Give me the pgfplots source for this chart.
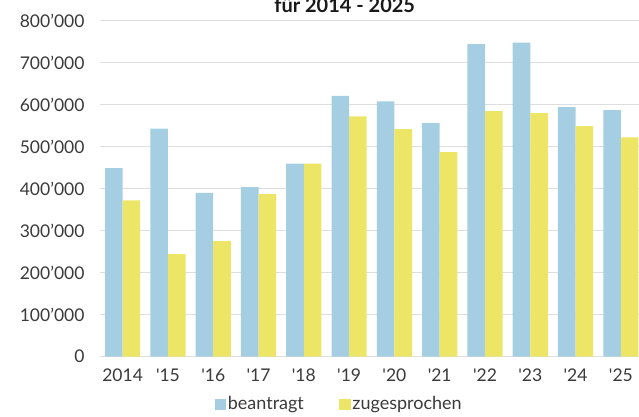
\documentclass[border=0pt]{standalone}
\usepackage{fontspec}
\setmainfont{Lato}
\usepackage{pgfplots}
\pgfplotsset{compat=1.18}
\definecolor{cblue}{HTML}{A6CEE3}
\definecolor{cyellow}{HTML}{EDE566}
\definecolor{txt}{HTML}{3A3A3A}
\definecolor{gridc}{HTML}{DEDEDE}

\pgfplotstableread{
x beantragt zugesprochen
0  449000 372000
1  543000 244000
2  390000 275000
3  404000 387000
4  460000 460000
5  621000 572000
6  608000 542000
7  556000 487000
8  744000 585000
9  748000 580000
10 594000 549000
11 587000 522000
}\datatable

\begin{document}
\begin{tikzpicture}[x=1pt,y=1pt]
\useasboundingbox (-100,-59.3) rectangle (539,356.7);
\begin{axis}[
  at={(0,0)}, anchor=south west,
  width=539pt, height=336pt, scale only axis,
  ymin=0, ymax=800000, xmin=-0.5, xmax=11.4,
  ybar=0pt, bar width=17.6pt,
  axis line style={draw=none},
  major tick length=0pt,
  ymajorgrids, grid style={gridc, line width=1.4pt},
  xtick={0,...,11},
  xticklabels={2014,\textquotesingle15,\textquotesingle16,\textquotesingle17,\textquotesingle18,\textquotesingle19,\textquotesingle20,\textquotesingle21,\textquotesingle22,\textquotesingle23,\textquotesingle24,\textquotesingle25},
  ytick={0,100000,200000,300000,400000,500000,600000,700000,800000},
  yticklabels={0,100’000,200’000,300’000,400’000,500’000,600’000,700’000,800’000},
  scaled y ticks=false,
  tick label style={font=\fontsize{17.5}{20}\selectfont, text=txt},
  xticklabel style={yshift=-9pt},
  yticklabel style={xshift=-12pt},
  clip=false,
  legend columns=2,
  legend style={draw=none, fill=none, at={(axis description cs:0.4435,-0.141)}, anchor=center,
    font=\fontsize{18}{20}\selectfont, text=txt, nodes={inner xsep=1.5pt},
    /tikz/every even column/.append style={column sep=34pt}},
]
\addplot[fill=cblue, draw=none, legend image code/.code={\fill[cblue] (0pt,-6pt) rectangle (11.5pt,5.5pt);}] table[x=x, y=beantragt] {\datatable};
\addlegendentry{beantragt}
\addplot[fill=cyellow, draw=none, legend image code/.code={\fill[cyellow] (0pt,-6pt) rectangle (11.5pt,5.5pt);}] table[x=x, y=zugesprochen] {\datatable};
\addlegendentry{zugesprochen}
\end{axis}
\node[anchor=base, font=\fontsize{20}{22}\selectfont\bfseries, text=black!90] at (244.7,344.4) {für 2014 - 2025};
\end{tikzpicture}
\end{document}
